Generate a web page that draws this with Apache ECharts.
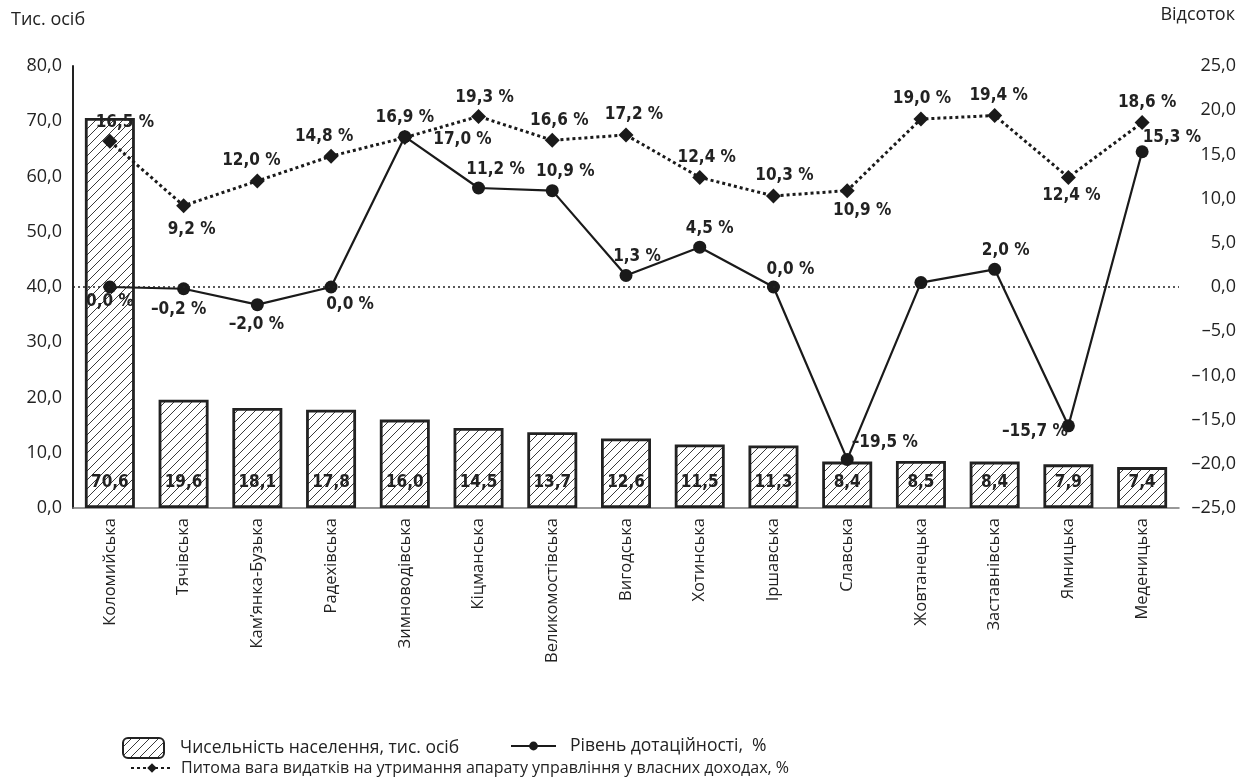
<!DOCTYPE html>
<html>
<head>
<meta charset="utf-8">
<script src="https://cdn.jsdelivr.net/npm/echarts@6/dist/echarts.min.js"></script>
<style>
html,body{margin:0;padding:0;background:#fff;}
#chart{width:1246px;height:780px;}
</style>
</head>
<body>
<div id="chart"></div>
<script>
// ---- data ----
const categories = ['Коломийська','Тячівська','Кам’янка-Бузька','Радехівська','Зимноводівська','Кіцманська','Великомостівська','Вигодська','Хотинська','Іршавська','Славська','Жовтанецька','Заставнівська','Ямницька','Меденицька'];
const population = [70.6, 19.6, 18.1, 17.8, 16.0, 14.5, 13.7, 12.6, 11.5, 11.3, 8.4, 8.5, 8.4, 7.9, 7.4];
const subsidyLevel = [0.0, -0.2, -2.0, 0.0, 17.0, 11.2, 10.9, 1.3, 4.5, 0.0, -19.5, 0.5, 2.0, -15.7, 15.3];
const adminShare = [16.5, 9.2, 12.0, 14.8, 16.9, 19.3, 16.6, 17.2, 12.4, 10.3, 10.9, 19.0, 19.4, 12.4, 18.6];
const leftTicks = {min: 0, max: 80, interval: 10};
const rightTicks = {min: -25, max: 25, interval: 5};
const seriesNames = ['Чисельність населення, тис. осіб', 'Рівень дотаційності,  %', 'Питома вага видатків на утримання апарату управління у власних доходах, %'];
const axisTitles = ['Тис. осіб', 'Відсоток'];

// ---- label placement (layout only) ----
const subsidyLabelLayout = [
  {position:'bottom', offset:[0,-6]},
  {position:'bottom', offset:[-5,0]},
  {position:'bottom', offset:[-1,-1]},
  {position:'bottom', offset:[19,-3]},
  {position:'right', offset:[16,3]},
  {position:'top', offset:[17,3]},
  {position:'top', offset:[13,2]},
  {position:'top', offset:[11,2]},
  {position:'top', offset:[10,2]},
  {position:'top', offset:[17,4]},
  {position:'right', offset:[-8,-17]},
  null,
  {position:'top', offset:[11,2]},
  {position:'left', offset:[12,6]},
  {position:'right', offset:[-12,-14]}
];
const shareLabelLayout = [
  {position:'top', offset:[15,2]},
  {position:'bottom', offset:[8,3]},
  {position:'top', offset:[-6,1]},
  {position:'top', offset:[-7,1]},
  {position:'top', offset:[0,1]},
  {position:'top', offset:[6,2]},
  {position:'top', offset:[7,1]},
  {position:'top', offset:[8,1]},
  {position:'top', offset:[7,1]},
  {position:'top', offset:[11,1]},
  {position:'bottom', offset:[15,-1]},
  {position:'top', offset:[1,1]},
  {position:'top', offset:[4,1]},
  {position:'bottom', offset:[3,-3]},
  {position:'top', offset:[5,1]}
];

function fmt(v){
  return (v < 0 ? '\u2013' : '') + Math.abs(v).toFixed(1).replace('.', ',');
}

// hatch pattern
const hatch = document.createElement('canvas');
hatch.width = 9; hatch.height = 9;
(function(){
  const c = hatch.getContext('2d');
  c.fillStyle = '#fff'; c.fillRect(0,0,9,9);
  c.strokeStyle = '#3a3a3a'; c.lineWidth = 1;
  c.beginPath();
  c.moveTo(-1,10); c.lineTo(10,-1);
  c.moveTo(-1,1); c.lineTo(1,-1);
  c.moveTo(8,10); c.lineTo(10,8);
  c.stroke();
})();

const labelFont = {fontFamily:"'DejaVu Sans Condensed','Liberation Sans Narrow','DejaVu Sans',sans-serif", fontWeight:'bold', fontSize:17, color:'#222'};
const textFont = "'Open Sans','Noto Sans',sans-serif";

function buildLineData(values, layout){
  return values.map((v, i) => {
    const l = layout[i];
    if (!l) return {value: v, label: {show: false}};
    return {value: v, label: {show: true, position: l.position, offset: l.offset}};
  });
}

const chart = echarts.init(document.getElementById('chart'), null, {renderer:'canvas'});
chart.setOption({
  animation: false,
  backgroundColor: '#fff',
  grid: {left: 73, right: 67, top: 66, bottom: 272},
  graphic: [
    {type:'text', left: 11, top: 11, style:{text: axisTitles[0], font:"18px 'Open Sans','Noto Sans',sans-serif", fill:'#222'}},
    {type:'text', right: 11, top: 6, style:{text: axisTitles[1], font:"18px 'Open Sans','Noto Sans',sans-serif", fill:'#222'}}
  ],
  legend: [
    {
      data: [seriesNames[0]],
      left: 122, top: 737, padding: 0, itemWidth: 41, itemHeight: 20,
      textStyle: {fontFamily: textFont, fontSize: 17.5, color:'#222', padding: [0,0,0,11]}
    },
    {
      data: [seriesNames[1]],
      left: 510, top: 737, padding: 0, itemWidth: 45, itemHeight: 11,
      textStyle: {fontFamily: textFont, fontSize: 17.5, color:'#222', padding: [0,0,0,9]}
    },
    {
      data: [seriesNames[2]],
      left: 130, top: 760, padding: 0, itemWidth: 42, itemHeight: 12,
      textStyle: {fontFamily: textFont, fontSize: 16, color:'#222', padding: [0,0,0,3]}
    }
  ],
  xAxis: {
    type: 'category',
    data: categories,
    axisTick: {show: false},
    axisLine: {lineStyle: {color: '#777', width: 1.5}},
    axisLabel: {rotate: 90, interval: 0, margin: 10, fontFamily: textFont, fontSize: 16.5, color: '#222'}
  },
  yAxis: [
    {
      type: 'value', min: leftTicks.min, max: leftTicks.max, interval: leftTicks.interval,
      axisLine: {show: true, lineStyle: {color: '#222', width: 2}},
      axisTick: {show: false},
      splitLine: {show: false},
      axisLabel: {margin: 11, fontFamily: textFont, fontSize: 18, color: '#222', formatter: fmt}
    },
    {
      type: 'value', min: rightTicks.min, max: rightTicks.max, interval: rightTicks.interval,
      position: 'right',
      axisLine: {show: false},
      axisTick: {show: false},
      splitLine: {show: false},
      axisLabel: {margin: 57, align: 'right', fontFamily: textFont, fontSize: 18, color: '#222', formatter: fmt}
    }
  ],
  series: [
    {
      name: seriesNames[0],
      type: 'bar',
      data: population,
      barWidth: 50,
      itemStyle: {color: {image: hatch, repeat: 'repeat'}, borderColor: '#222', borderWidth: 2.8},
      label: Object.assign({show: true, position: 'insideBottom', distance: 17, formatter: p => fmt(p.value)}, labelFont),
      z: 1
    },
    {
      name: seriesNames[1],
      type: 'line',
      yAxisIndex: 1,
      data: buildLineData(subsidyLevel, subsidyLabelLayout),
      symbol: 'circle', symbolSize: 13,
      lineStyle: {color: '#1a1a1a', width: 2.2},
      itemStyle: {color: '#1a1a1a'},
      label: Object.assign({distance: 6, formatter: p => fmt(p.value) + ' %'}, labelFont),
      markLine: {
        silent: true, symbol: 'none', label: {show: false},
        lineStyle: {color: '#222', type: [2, 3], width: 1.5},
        data: [{yAxis: 0}]
      },
      z: 3
    },
    {
      name: seriesNames[2],
      type: 'line',
      yAxisIndex: 1,
      data: buildLineData(adminShare, shareLabelLayout),
      symbol: 'diamond', symbolSize: 15,
      lineStyle: {color: '#1a1a1a', width: 3, type: [3, 3]},
      itemStyle: {color: '#1a1a1a'},
      label: Object.assign({distance: 5, formatter: p => fmt(p.value) + ' %'}, labelFont),
      z: 4
    }
  ]
});
</script>
</body>
</html>
